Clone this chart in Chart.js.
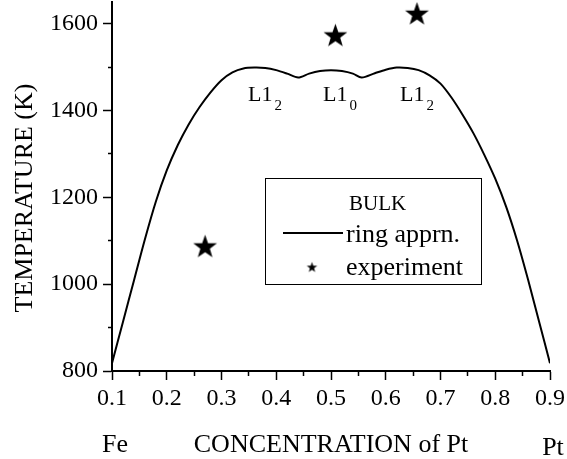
<!DOCTYPE html>
<html>
<head>
<meta charset="utf-8">
<script src="https://cdn.jsdelivr.net/npm/chart.js@4.4.1/dist/chart.umd.min.js"></script>
<style>
  html, body { margin: 0; padding: 0; background: #fff; }
  #wrap { width: 567px; height: 459px; }
</style>
</head>
<body>
<div id="wrap"><canvas id="chart" width="567" height="459"></canvas></div>
<script>
// ring approximation (bulk) order-disorder temperature
const conc = [0.10, 0.12, 0.14, 0.16, 0.18, 0.20, 0.22, 0.24, 0.26, 0.28, 0.30, 0.32, 0.34, 0.36, 0.38, 0.40, 0.42, 0.44,
              0.46, 0.48, 0.50, 0.52, 0.54, 0.556,
              0.58, 0.60, 0.62, 0.64, 0.66, 0.68, 0.70, 0.72, 0.74, 0.76, 0.78, 0.80, 0.82, 0.84, 0.86, 0.88, 0.90];
const tempRing = [818, 913, 1008, 1103, 1190, 1262, 1320, 1368, 1408, 1442, 1470, 1488, 1497, 1499, 1498, 1493, 1485, 1476,
                  1485, 1491, 1493, 1491, 1485, 1476,
                  1486, 1494, 1499, 1498, 1493, 1481, 1462, 1430, 1391, 1348, 1298, 1243, 1178, 1100, 1010, 914, 818];

// experiment
const expConc = [0.27, 0.508, 0.657];
const expTemp = [1088, 1574, 1624];

const xTicks = [0.1, 0.2, 0.3, 0.4, 0.5, 0.6, 0.7, 0.8, 0.9];
const yTicks = [800, 1000, 1200, 1400, 1600];
const yMinorTicks = [900, 1100, 1300, 1500];

const serif = "'Liberation Serif', 'Times New Roman', serif";

function makeStar(r) {
  const c = document.createElement('canvas');
  c.width = c.height = Math.ceil(r * 2) + 2;
  const g = c.getContext('2d');
  g.translate(c.width / 2, c.height / 2 + r * 0.095);
  g.beginPath();
  for (let i = 0; i < 10; i++) {
    const a = -Math.PI / 2 + i * Math.PI / 5;
    const rr = i % 2 === 0 ? r : r * 0.4;
    g.lineTo(rr * Math.cos(a), rr * Math.sin(a));
  }
  g.closePath();
  g.fillStyle = '#000';
  g.fill();
  return c;
}
const bigStar = makeStar(12.5);
const smallStar = makeStar(5.5);

const isMajorX = v => xTicks.some(t => Math.abs(t - v) < 1e-6);
const isMajorY = v => yTicks.includes(Math.round(v));

const annotations = {
  id: 'annotations',
  afterDraw(chart) {
    const c = chart.ctx;
    c.save();
    c.fillStyle = '#000';
    c.strokeStyle = '#000';

    // phase labels
    const phase = [[248, 'L1', '2'], [323, 'L1', '0'], [400, 'L1', '2']];
    phase.forEach(([x, main, sub]) => {
      c.font = '22px ' + serif;
      c.textAlign = 'left';
      c.textBaseline = 'alphabetic';
      c.fillText(main, x, 101);
      const w = c.measureText(main).width;
      c.font = '15px ' + serif;
      c.fillText(sub, x + w + 2, 110);
    });

    // legend
    c.lineWidth = 1;
    c.strokeRect(265.5, 178.5, 216, 106);
    c.textAlign = 'left';
    c.font = '21px ' + serif;
    c.fillText('BULK', 349, 210);
    c.font = '26px ' + serif;
    c.fillText('ring apprn.', 346, 242);
    c.fillText('experiment', 346, 275);
    c.lineWidth = 2;
    c.beginPath();
    c.moveTo(283, 233);
    c.lineTo(343, 233);
    c.stroke();
    c.drawImage(smallStar, 312 - smallStar.width / 2, 267 - smallStar.height / 2);

    // axis titles
    c.font = '26px ' + serif;
    c.textAlign = 'center';
    c.fillText('Fe', 115, 452);
    c.fillText('CONCENTRATION of Pt', 331, 452);
    c.fillText('Pt', 553, 455);
    c.translate(32, 198);
    c.rotate(-Math.PI / 2);
    c.fillText('TEMPERATURE (K)', 0, 0);
    c.restore();
  }
};

new Chart(document.getElementById('chart'), {
  type: 'scatter',
  data: {
    datasets: [{
      label: 'ring apprn.',
      data: conc.map((x, i) => ({x: x, y: tempRing[i]})),
      showLine: true,
      borderColor: '#000',
      borderWidth: 2,
      pointRadius: 0,
      tension: 0.3,
      fill: false
    }, {
      label: 'experiment',
      data: expConc.map((x, i) => ({x: x, y: expTemp[i]})),
      pointStyle: bigStar,
      pointRadius: 12,
      showLine: false
    }]
  },
  options: {
    responsive: false,
    animation: false,
    layout: {autoPadding: false, padding: {top: 2, right: 17, bottom: 0, left: 0}},
    plugins: {legend: {display: false}, tooltip: {enabled: false}},
    scales: {
      x: {
        type: 'linear',
        min: 0.1,
        max: 0.9,
        ticks: {
          stepSize: 0.05,
          autoSkip: false,
          maxRotation: 0,
          padding: 4,
          color: '#000',
          font: {family: serif, size: 24},
          callback: v => isMajorX(v) ? v.toFixed(1) : ''
        },
        grid: {
          drawOnChartArea: false,
          tickLength: 9,
          tickColor: '#000',
          tickWidth: 1.5,
          tickBorderDash: ctx => (ctx.tick && !isMajorX(ctx.tick.value)) ? [4, 40] : []
        },
        border: {color: '#000', width: 2},
        afterFit: s => { s.height = 88; s.paddingRight = 0; s.paddingLeft = 0; }
      },
      y: {
        type: 'linear',
        min: 800,
        max: 1650,
        afterBuildTicks: s => {
          s.ticks = yTicks.concat(yMinorTicks).sort((a, b) => a - b).map(v => ({value: v}));
        },
        ticks: {
          autoSkip: false,
          padding: 5,
          color: '#000',
          font: {family: serif, size: 24},
          callback: v => isMajorY(v) ? String(v) : ''
        },
        grid: {
          drawOnChartArea: false,
          tickLength: 9,
          tickColor: '#000',
          tickWidth: 1.5,
          tickBorderDash: ctx => (ctx.tick && !isMajorY(ctx.tick.value)) ? [0, 5, 4, 40] : []
        },
        border: {color: '#000', width: 2},
        afterFit: s => { s.width = 112; s.paddingTop = 0; s.paddingBottom = 0; }
      }
    }
  },
  plugins: [annotations]
});
</script>
</body>
</html>
